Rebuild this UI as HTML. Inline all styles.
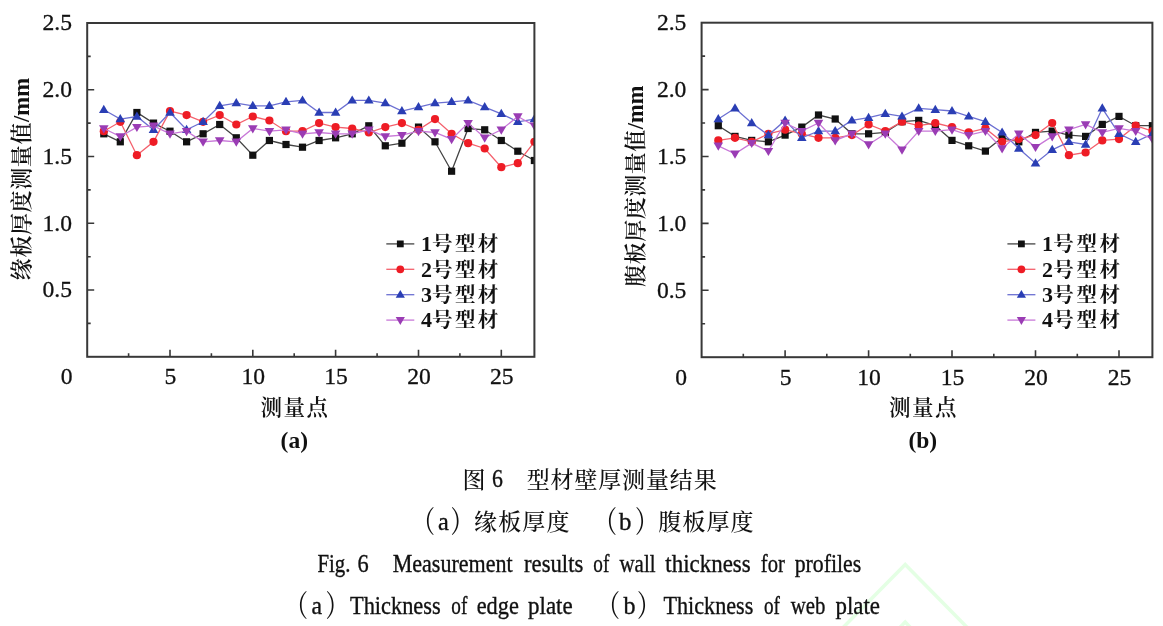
<!DOCTYPE html>
<html lang="zh-CN">
<head>
<meta charset="utf-8">
<title>图6 型材壁厚测量结果</title>
<style>
html,body{margin:0;padding:0;background:#fff;}
body{width:1163px;height:626px;overflow:hidden;}
svg{display:block;}
text{font-family:"Liberation Serif","Noto Serif CJK SC",serif;fill:#111;}
.tk text{font-size:23.6px;stroke:#111;stroke-width:0.3px;}
.lb{font-size:21.5px;font-weight:600;}
.yl{font-size:22px;font-weight:600;}
.yl .la{font-size:24px;}
.sb{font-size:23.5px;font-weight:bold;}
.lg{font-size:20.5px;font-weight:bold;}
.lg .dg{font-size:22px;}
.cap{font-size:23px;font-weight:500;}
.en{font-size:24.5px;stroke:#111;stroke-width:0.35px;}
</style>
</head>
<body>
<svg width="1163" height="626" viewBox="0 0 1163 626">
<rect width="1163" height="626" fill="#ffffff"/>
<path d="M842.6 628L905.2 564.5L967.7 628M880 648L905.2 622L930 648" fill="none" stroke="#e4ffe4" stroke-width="3.5"/>
<clipPath id="cp1"><rect x="87.2" y="23.0" width="447.2" height="333.8"/></clipPath>
<g clip-path="url(#cp1)">
<polyline points="103.8,133.8 120.3,141.8 136.9,112.5 153.5,123.1 170.0,131.2 186.6,141.8 203.1,133.8 219.7,124.5 236.3,137.8 252.8,155.2 269.4,140.5 286.0,144.5 302.5,147.2 319.1,140.5 335.6,137.8 352.2,133.8 368.8,125.8 385.3,145.8 401.9,143.2 418.5,127.1 435.0,141.8 451.6,171.2 468.1,128.5 484.7,129.8 501.3,140.5 517.8,151.2 534.4,160.5" fill="none" stroke="#444444" stroke-width="1.3"/>
<rect x="100.2" y="130.2" width="7.2" height="7.2" fill="#111111"/>
<rect x="116.7" y="138.2" width="7.2" height="7.2" fill="#111111"/>
<rect x="133.3" y="108.9" width="7.2" height="7.2" fill="#111111"/>
<rect x="149.9" y="119.5" width="7.2" height="7.2" fill="#111111"/>
<rect x="166.4" y="127.6" width="7.2" height="7.2" fill="#111111"/>
<rect x="183.0" y="138.2" width="7.2" height="7.2" fill="#111111"/>
<rect x="199.5" y="130.2" width="7.2" height="7.2" fill="#111111"/>
<rect x="216.1" y="120.9" width="7.2" height="7.2" fill="#111111"/>
<rect x="232.7" y="134.2" width="7.2" height="7.2" fill="#111111"/>
<rect x="249.2" y="151.6" width="7.2" height="7.2" fill="#111111"/>
<rect x="265.8" y="136.9" width="7.2" height="7.2" fill="#111111"/>
<rect x="282.4" y="140.9" width="7.2" height="7.2" fill="#111111"/>
<rect x="298.9" y="143.6" width="7.2" height="7.2" fill="#111111"/>
<rect x="315.5" y="136.9" width="7.2" height="7.2" fill="#111111"/>
<rect x="332.0" y="134.2" width="7.2" height="7.2" fill="#111111"/>
<rect x="348.6" y="130.2" width="7.2" height="7.2" fill="#111111"/>
<rect x="365.2" y="122.2" width="7.2" height="7.2" fill="#111111"/>
<rect x="381.7" y="142.2" width="7.2" height="7.2" fill="#111111"/>
<rect x="398.3" y="139.6" width="7.2" height="7.2" fill="#111111"/>
<rect x="414.9" y="123.5" width="7.2" height="7.2" fill="#111111"/>
<rect x="431.4" y="138.2" width="7.2" height="7.2" fill="#111111"/>
<rect x="448.0" y="167.6" width="7.2" height="7.2" fill="#111111"/>
<rect x="464.5" y="124.9" width="7.2" height="7.2" fill="#111111"/>
<rect x="481.1" y="126.2" width="7.2" height="7.2" fill="#111111"/>
<rect x="497.7" y="136.9" width="7.2" height="7.2" fill="#111111"/>
<rect x="514.2" y="147.6" width="7.2" height="7.2" fill="#111111"/>
<rect x="530.8" y="156.9" width="7.2" height="7.2" fill="#111111"/>
<polyline points="103.8,131.2 120.3,121.8 136.9,155.2 153.5,141.8 170.0,111.1 186.6,115.1 203.1,121.8 219.7,115.1 236.3,124.5 252.8,116.5 269.4,120.5 286.0,131.2 302.5,131.2 319.1,123.1 335.6,127.1 352.2,128.5 368.8,132.5 385.3,127.1 401.9,123.1 418.5,129.8 435.0,119.1 451.6,133.8 468.1,143.2 484.7,148.5 501.3,167.2 517.8,163.2 534.4,141.8" fill="none" stroke="#f4606c" stroke-width="1.3"/>
<circle cx="103.8" cy="131.2" r="4.1" fill="#ee1c25"/>
<circle cx="120.3" cy="121.8" r="4.1" fill="#ee1c25"/>
<circle cx="136.9" cy="155.2" r="4.1" fill="#ee1c25"/>
<circle cx="153.5" cy="141.8" r="4.1" fill="#ee1c25"/>
<circle cx="170.0" cy="111.1" r="4.1" fill="#ee1c25"/>
<circle cx="186.6" cy="115.1" r="4.1" fill="#ee1c25"/>
<circle cx="203.1" cy="121.8" r="4.1" fill="#ee1c25"/>
<circle cx="219.7" cy="115.1" r="4.1" fill="#ee1c25"/>
<circle cx="236.3" cy="124.5" r="4.1" fill="#ee1c25"/>
<circle cx="252.8" cy="116.5" r="4.1" fill="#ee1c25"/>
<circle cx="269.4" cy="120.5" r="4.1" fill="#ee1c25"/>
<circle cx="286.0" cy="131.2" r="4.1" fill="#ee1c25"/>
<circle cx="302.5" cy="131.2" r="4.1" fill="#ee1c25"/>
<circle cx="319.1" cy="123.1" r="4.1" fill="#ee1c25"/>
<circle cx="335.6" cy="127.1" r="4.1" fill="#ee1c25"/>
<circle cx="352.2" cy="128.5" r="4.1" fill="#ee1c25"/>
<circle cx="368.8" cy="132.5" r="4.1" fill="#ee1c25"/>
<circle cx="385.3" cy="127.1" r="4.1" fill="#ee1c25"/>
<circle cx="401.9" cy="123.1" r="4.1" fill="#ee1c25"/>
<circle cx="418.5" cy="129.8" r="4.1" fill="#ee1c25"/>
<circle cx="435.0" cy="119.1" r="4.1" fill="#ee1c25"/>
<circle cx="451.6" cy="133.8" r="4.1" fill="#ee1c25"/>
<circle cx="468.1" cy="143.2" r="4.1" fill="#ee1c25"/>
<circle cx="484.7" cy="148.5" r="4.1" fill="#ee1c25"/>
<circle cx="501.3" cy="167.2" r="4.1" fill="#ee1c25"/>
<circle cx="517.8" cy="163.2" r="4.1" fill="#ee1c25"/>
<circle cx="534.4" cy="141.8" r="4.1" fill="#ee1c25"/>
<polyline points="103.8,109.8 120.3,119.1 136.9,116.5 153.5,129.8 170.0,112.5 186.6,129.8 203.1,121.8 219.7,105.8 236.3,103.1 252.8,105.8 269.4,105.8 286.0,101.8 302.5,100.4 319.1,112.5 335.6,112.5 352.2,100.4 368.8,100.4 385.3,103.1 401.9,111.1 418.5,107.1 435.0,103.1 451.6,101.8 468.1,100.4 484.7,107.1 501.3,113.8 517.8,121.8 534.4,119.1" fill="none" stroke="#6c70d2" stroke-width="1.3"/>
<polygon points="103.8,104.8 108.6,113.0 99.0,113.0" fill="#2a3eb4"/>
<polygon points="120.3,114.1 125.1,122.3 115.5,122.3" fill="#2a3eb4"/>
<polygon points="136.9,111.5 141.7,119.7 132.1,119.7" fill="#2a3eb4"/>
<polygon points="153.5,124.8 158.3,133.0 148.7,133.0" fill="#2a3eb4"/>
<polygon points="170.0,107.5 174.8,115.7 165.2,115.7" fill="#2a3eb4"/>
<polygon points="186.6,124.8 191.4,133.0 181.8,133.0" fill="#2a3eb4"/>
<polygon points="203.1,116.8 207.9,125.0 198.3,125.0" fill="#2a3eb4"/>
<polygon points="219.7,100.8 224.5,109.0 214.9,109.0" fill="#2a3eb4"/>
<polygon points="236.3,98.1 241.1,106.3 231.5,106.3" fill="#2a3eb4"/>
<polygon points="252.8,100.8 257.6,109.0 248.0,109.0" fill="#2a3eb4"/>
<polygon points="269.4,100.8 274.2,109.0 264.6,109.0" fill="#2a3eb4"/>
<polygon points="286.0,96.8 290.8,105.0 281.2,105.0" fill="#2a3eb4"/>
<polygon points="302.5,95.4 307.3,103.6 297.7,103.6" fill="#2a3eb4"/>
<polygon points="319.1,107.5 323.9,115.7 314.3,115.7" fill="#2a3eb4"/>
<polygon points="335.6,107.5 340.4,115.7 330.8,115.7" fill="#2a3eb4"/>
<polygon points="352.2,95.4 357.0,103.6 347.4,103.6" fill="#2a3eb4"/>
<polygon points="368.8,95.4 373.6,103.6 364.0,103.6" fill="#2a3eb4"/>
<polygon points="385.3,98.1 390.1,106.3 380.5,106.3" fill="#2a3eb4"/>
<polygon points="401.9,106.1 406.7,114.3 397.1,114.3" fill="#2a3eb4"/>
<polygon points="418.5,102.1 423.3,110.3 413.7,110.3" fill="#2a3eb4"/>
<polygon points="435.0,98.1 439.8,106.3 430.2,106.3" fill="#2a3eb4"/>
<polygon points="451.6,96.8 456.4,105.0 446.8,105.0" fill="#2a3eb4"/>
<polygon points="468.1,95.4 472.9,103.6 463.3,103.6" fill="#2a3eb4"/>
<polygon points="484.7,102.1 489.5,110.3 479.9,110.3" fill="#2a3eb4"/>
<polygon points="501.3,108.8 506.1,117.0 496.5,117.0" fill="#2a3eb4"/>
<polygon points="517.8,116.8 522.6,125.0 513.0,125.0" fill="#2a3eb4"/>
<polygon points="534.4,114.1 539.2,122.3 529.6,122.3" fill="#2a3eb4"/>
<polyline points="103.8,128.5 120.3,136.5 136.9,127.1 153.5,125.8 170.0,133.8 186.6,131.2 203.1,141.8 219.7,140.5 236.3,141.8 252.8,128.5 269.4,131.2 286.0,129.8 302.5,133.8 319.1,132.5 335.6,133.8 352.2,133.8 368.8,129.8 385.3,136.5 401.9,135.2 418.5,131.2 435.0,132.5 451.6,139.2 468.1,123.1 484.7,137.8 501.3,129.8 517.8,116.5 534.4,125.8" fill="none" stroke="#c878d8" stroke-width="1.3"/>
<polygon points="103.8,133.5 108.6,125.3 99.0,125.3" fill="#9a3cb4"/>
<polygon points="120.3,141.5 125.1,133.3 115.5,133.3" fill="#9a3cb4"/>
<polygon points="136.9,132.1 141.7,123.9 132.1,123.9" fill="#9a3cb4"/>
<polygon points="153.5,130.8 158.3,122.6 148.7,122.6" fill="#9a3cb4"/>
<polygon points="170.0,138.8 174.8,130.6 165.2,130.6" fill="#9a3cb4"/>
<polygon points="186.6,136.2 191.4,128.0 181.8,128.0" fill="#9a3cb4"/>
<polygon points="203.1,146.8 207.9,138.6 198.3,138.6" fill="#9a3cb4"/>
<polygon points="219.7,145.5 224.5,137.3 214.9,137.3" fill="#9a3cb4"/>
<polygon points="236.3,146.8 241.1,138.6 231.5,138.6" fill="#9a3cb4"/>
<polygon points="252.8,133.5 257.6,125.3 248.0,125.3" fill="#9a3cb4"/>
<polygon points="269.4,136.2 274.2,128.0 264.6,128.0" fill="#9a3cb4"/>
<polygon points="286.0,134.8 290.8,126.6 281.2,126.6" fill="#9a3cb4"/>
<polygon points="302.5,138.8 307.3,130.6 297.7,130.6" fill="#9a3cb4"/>
<polygon points="319.1,137.5 323.9,129.3 314.3,129.3" fill="#9a3cb4"/>
<polygon points="335.6,138.8 340.4,130.6 330.8,130.6" fill="#9a3cb4"/>
<polygon points="352.2,138.8 357.0,130.6 347.4,130.6" fill="#9a3cb4"/>
<polygon points="368.8,134.8 373.6,126.6 364.0,126.6" fill="#9a3cb4"/>
<polygon points="385.3,141.5 390.1,133.3 380.5,133.3" fill="#9a3cb4"/>
<polygon points="401.9,140.2 406.7,132.0 397.1,132.0" fill="#9a3cb4"/>
<polygon points="418.5,136.2 423.3,128.0 413.7,128.0" fill="#9a3cb4"/>
<polygon points="435.0,137.5 439.8,129.3 430.2,129.3" fill="#9a3cb4"/>
<polygon points="451.6,144.2 456.4,136.0 446.8,136.0" fill="#9a3cb4"/>
<polygon points="468.1,128.1 472.9,119.9 463.3,119.9" fill="#9a3cb4"/>
<polygon points="484.7,142.8 489.5,134.6 479.9,134.6" fill="#9a3cb4"/>
<polygon points="501.3,134.8 506.1,126.6 496.5,126.6" fill="#9a3cb4"/>
<polygon points="517.8,121.5 522.6,113.3 513.0,113.3" fill="#9a3cb4"/>
<polygon points="534.4,130.8 539.2,122.6 529.6,122.6" fill="#9a3cb4"/>
</g>
<rect x="87.2" y="23.0" width="447.2" height="333.8" fill="none" stroke="#383838" stroke-width="2"/>
<path d="M87.2 323.4h3.5M87.2 290.0h7M87.2 256.7h3.5M87.2 223.3h7M87.2 189.9h3.5M87.2 156.5h7M87.2 123.1h3.5M87.2 89.8h7M87.2 56.4h3.5M128.6 356.8v-3.5M170.0 356.8v-7M211.4 356.8v-3.5M252.8 356.8v-7M294.2 356.8v-3.5M335.6 356.8v-7M377.1 356.8v-3.5M418.5 356.8v-7M459.9 356.8v-3.5M501.3 356.8v-7" stroke="#383838" stroke-width="1.6" fill="none"/>
<g class="tk">
<text x="72.0" y="297.3" text-anchor="end">0.5</text>
<text x="72.0" y="230.6" text-anchor="end">1.0</text>
<text x="72.0" y="163.8" text-anchor="end">1.5</text>
<text x="72.0" y="97.1" text-anchor="end">2.0</text>
<text x="72.0" y="30.3" text-anchor="end">2.5</text>
<text x="66.7" y="384.4" text-anchor="middle">0</text>
<text x="170.5" y="384.4" text-anchor="middle">5</text>
<text x="253.3" y="384.4" text-anchor="middle">10</text>
<text x="336.1" y="384.4" text-anchor="middle">15</text>
<text x="419.0" y="384.4" text-anchor="middle">20</text>
<text x="501.8" y="384.4" text-anchor="middle">25</text>
</g>
<text class="yl" transform="translate(28.5,280.2) rotate(-90)"><tspan x="0.0 22.6 45.2 67.8 90.4 113.0 135.6">缘板厚度测量值</tspan><tspan class="la" x="158.2" textLength="44" lengthAdjust="spacingAndGlyphs">/mm</tspan></text>
<text class="lb" x="294.3" y="414.8" text-anchor="middle" textLength="67.5" lengthAdjust="spacing">测量点</text>
<text class="sb" x="294.3" y="447.8" text-anchor="middle">(a)</text>
<path d="M386.3 243.9h28" stroke="#444444" stroke-width="1.3"/>
<rect x="396.9" y="240.5" width="6.8" height="6.8" fill="#111111"/>
<text class="lg" y="251.1"><tspan class="dg" x="420.9">1</tspan><tspan x="432.1 454.9 477.7">号型材</tspan></text>
<path d="M386.3 269.3h28" stroke="#f4606c" stroke-width="1.3"/>
<circle cx="400.3" cy="269.3" r="3.9" fill="#ee1c25"/>
<text class="lg" y="276.5"><tspan class="dg" x="420.9">2</tspan><tspan x="432.1 454.9 477.7">号型材</tspan></text>
<path d="M386.3 294.7h28" stroke="#6c70d2" stroke-width="1.3"/>
<polygon points="400.3,289.9 404.9,297.7 395.7,297.7" fill="#2a3eb4"/>
<text class="lg" y="301.9"><tspan class="dg" x="420.9">3</tspan><tspan x="432.1 454.9 477.7">号型材</tspan></text>
<path d="M386.3 320.1h28" stroke="#c878d8" stroke-width="1.3"/>
<polygon points="400.3,324.9 404.9,317.1 395.7,317.1" fill="#9a3cb4"/>
<text class="lg" y="327.3"><tspan class="dg" x="420.9">4</tspan><tspan x="432.1 454.9 477.7">号型材</tspan></text>
<clipPath id="cp2"><rect x="701.6" y="22.7" width="450.8" height="334.5"/></clipPath>
<g clip-path="url(#cp2)">
<polyline points="718.3,125.7 735.0,136.4 751.7,140.4 768.4,141.8 785.1,135.1 801.8,127.1 818.5,115.0 835.2,119.0 851.9,133.8 868.6,133.8 885.3,132.4 902.0,121.7 918.7,120.4 935.3,125.7 952.0,140.4 968.7,145.8 985.4,151.1 1002.1,137.8 1018.8,141.8 1035.5,132.4 1052.2,131.1 1068.9,135.1 1085.6,136.4 1102.3,124.4 1119.0,116.4 1135.7,125.7 1152.4,125.7" fill="none" stroke="#444444" stroke-width="1.3"/>
<rect x="714.7" y="122.1" width="7.2" height="7.2" fill="#111111"/>
<rect x="731.4" y="132.8" width="7.2" height="7.2" fill="#111111"/>
<rect x="748.1" y="136.8" width="7.2" height="7.2" fill="#111111"/>
<rect x="764.8" y="138.2" width="7.2" height="7.2" fill="#111111"/>
<rect x="781.5" y="131.5" width="7.2" height="7.2" fill="#111111"/>
<rect x="798.2" y="123.5" width="7.2" height="7.2" fill="#111111"/>
<rect x="814.9" y="111.4" width="7.2" height="7.2" fill="#111111"/>
<rect x="831.6" y="115.4" width="7.2" height="7.2" fill="#111111"/>
<rect x="848.3" y="130.2" width="7.2" height="7.2" fill="#111111"/>
<rect x="865.0" y="130.2" width="7.2" height="7.2" fill="#111111"/>
<rect x="881.7" y="128.8" width="7.2" height="7.2" fill="#111111"/>
<rect x="898.4" y="118.1" width="7.2" height="7.2" fill="#111111"/>
<rect x="915.1" y="116.8" width="7.2" height="7.2" fill="#111111"/>
<rect x="931.7" y="122.1" width="7.2" height="7.2" fill="#111111"/>
<rect x="948.4" y="136.8" width="7.2" height="7.2" fill="#111111"/>
<rect x="965.1" y="142.2" width="7.2" height="7.2" fill="#111111"/>
<rect x="981.8" y="147.5" width="7.2" height="7.2" fill="#111111"/>
<rect x="998.5" y="134.2" width="7.2" height="7.2" fill="#111111"/>
<rect x="1015.2" y="138.2" width="7.2" height="7.2" fill="#111111"/>
<rect x="1031.9" y="128.8" width="7.2" height="7.2" fill="#111111"/>
<rect x="1048.6" y="127.5" width="7.2" height="7.2" fill="#111111"/>
<rect x="1065.3" y="131.5" width="7.2" height="7.2" fill="#111111"/>
<rect x="1082.0" y="132.8" width="7.2" height="7.2" fill="#111111"/>
<rect x="1098.7" y="120.8" width="7.2" height="7.2" fill="#111111"/>
<rect x="1115.4" y="112.8" width="7.2" height="7.2" fill="#111111"/>
<rect x="1132.1" y="122.1" width="7.2" height="7.2" fill="#111111"/>
<rect x="1148.8" y="122.1" width="7.2" height="7.2" fill="#111111"/>
<polyline points="718.3,140.4 735.0,137.8 751.7,141.8 768.4,133.8 785.1,129.7 801.8,133.8 818.5,137.8 835.2,137.8 851.9,135.1 868.6,124.4 885.3,131.1 902.0,121.7 918.7,125.7 935.3,123.0 952.0,127.1 968.7,132.4 985.4,128.4 1002.1,141.8 1018.8,139.1 1035.5,135.1 1052.2,123.0 1068.9,155.2 1085.6,152.5 1102.3,140.4 1119.0,139.1 1135.7,125.7 1152.4,131.1" fill="none" stroke="#f4606c" stroke-width="1.3"/>
<circle cx="718.3" cy="140.4" r="4.1" fill="#ee1c25"/>
<circle cx="735.0" cy="137.8" r="4.1" fill="#ee1c25"/>
<circle cx="751.7" cy="141.8" r="4.1" fill="#ee1c25"/>
<circle cx="768.4" cy="133.8" r="4.1" fill="#ee1c25"/>
<circle cx="785.1" cy="129.7" r="4.1" fill="#ee1c25"/>
<circle cx="801.8" cy="133.8" r="4.1" fill="#ee1c25"/>
<circle cx="818.5" cy="137.8" r="4.1" fill="#ee1c25"/>
<circle cx="835.2" cy="137.8" r="4.1" fill="#ee1c25"/>
<circle cx="851.9" cy="135.1" r="4.1" fill="#ee1c25"/>
<circle cx="868.6" cy="124.4" r="4.1" fill="#ee1c25"/>
<circle cx="885.3" cy="131.1" r="4.1" fill="#ee1c25"/>
<circle cx="902.0" cy="121.7" r="4.1" fill="#ee1c25"/>
<circle cx="918.7" cy="125.7" r="4.1" fill="#ee1c25"/>
<circle cx="935.3" cy="123.0" r="4.1" fill="#ee1c25"/>
<circle cx="952.0" cy="127.1" r="4.1" fill="#ee1c25"/>
<circle cx="968.7" cy="132.4" r="4.1" fill="#ee1c25"/>
<circle cx="985.4" cy="128.4" r="4.1" fill="#ee1c25"/>
<circle cx="1002.1" cy="141.8" r="4.1" fill="#ee1c25"/>
<circle cx="1018.8" cy="139.1" r="4.1" fill="#ee1c25"/>
<circle cx="1035.5" cy="135.1" r="4.1" fill="#ee1c25"/>
<circle cx="1052.2" cy="123.0" r="4.1" fill="#ee1c25"/>
<circle cx="1068.9" cy="155.2" r="4.1" fill="#ee1c25"/>
<circle cx="1085.6" cy="152.5" r="4.1" fill="#ee1c25"/>
<circle cx="1102.3" cy="140.4" r="4.1" fill="#ee1c25"/>
<circle cx="1119.0" cy="139.1" r="4.1" fill="#ee1c25"/>
<circle cx="1135.7" cy="125.7" r="4.1" fill="#ee1c25"/>
<circle cx="1152.4" cy="131.1" r="4.1" fill="#ee1c25"/>
<polyline points="718.3,119.0 735.0,108.3 751.7,123.0 768.4,135.1 785.1,120.4 801.8,137.8 818.5,131.1 835.2,131.1 851.9,120.4 868.6,117.7 885.3,113.7 902.0,116.4 918.7,108.3 935.3,109.7 952.0,111.0 968.7,116.4 985.4,121.7 1002.1,132.4 1018.8,148.5 1035.5,163.2 1052.2,149.8 1068.9,141.8 1085.6,144.5 1102.3,108.3 1119.0,133.8 1135.7,141.8 1152.4,133.8" fill="none" stroke="#6c70d2" stroke-width="1.3"/>
<polygon points="718.3,114.0 723.1,122.2 713.5,122.2" fill="#2a3eb4"/>
<polygon points="735.0,103.3 739.8,111.5 730.2,111.5" fill="#2a3eb4"/>
<polygon points="751.7,118.0 756.5,126.2 746.9,126.2" fill="#2a3eb4"/>
<polygon points="768.4,130.1 773.2,138.3 763.6,138.3" fill="#2a3eb4"/>
<polygon points="785.1,115.4 789.9,123.6 780.3,123.6" fill="#2a3eb4"/>
<polygon points="801.8,132.8 806.6,141.0 797.0,141.0" fill="#2a3eb4"/>
<polygon points="818.5,126.1 823.3,134.3 813.7,134.3" fill="#2a3eb4"/>
<polygon points="835.2,126.1 840.0,134.3 830.4,134.3" fill="#2a3eb4"/>
<polygon points="851.9,115.4 856.7,123.6 847.1,123.6" fill="#2a3eb4"/>
<polygon points="868.6,112.7 873.4,120.9 863.8,120.9" fill="#2a3eb4"/>
<polygon points="885.3,108.7 890.1,116.9 880.5,116.9" fill="#2a3eb4"/>
<polygon points="902.0,111.4 906.8,119.6 897.2,119.6" fill="#2a3eb4"/>
<polygon points="918.7,103.3 923.5,111.5 913.9,111.5" fill="#2a3eb4"/>
<polygon points="935.3,104.7 940.1,112.9 930.5,112.9" fill="#2a3eb4"/>
<polygon points="952.0,106.0 956.8,114.2 947.2,114.2" fill="#2a3eb4"/>
<polygon points="968.7,111.4 973.5,119.6 963.9,119.6" fill="#2a3eb4"/>
<polygon points="985.4,116.7 990.2,124.9 980.6,124.9" fill="#2a3eb4"/>
<polygon points="1002.1,127.4 1006.9,135.6 997.3,135.6" fill="#2a3eb4"/>
<polygon points="1018.8,143.5 1023.6,151.7 1014.0,151.7" fill="#2a3eb4"/>
<polygon points="1035.5,158.2 1040.3,166.4 1030.7,166.4" fill="#2a3eb4"/>
<polygon points="1052.2,144.8 1057.0,153.0 1047.4,153.0" fill="#2a3eb4"/>
<polygon points="1068.9,136.8 1073.7,145.0 1064.1,145.0" fill="#2a3eb4"/>
<polygon points="1085.6,139.5 1090.4,147.7 1080.8,147.7" fill="#2a3eb4"/>
<polygon points="1102.3,103.3 1107.1,111.5 1097.5,111.5" fill="#2a3eb4"/>
<polygon points="1119.0,128.8 1123.8,137.0 1114.2,137.0" fill="#2a3eb4"/>
<polygon points="1135.7,136.8 1140.5,145.0 1130.9,145.0" fill="#2a3eb4"/>
<polygon points="1152.4,128.8 1157.2,137.0 1147.6,137.0" fill="#2a3eb4"/>
<polyline points="718.3,145.8 735.0,153.8 751.7,143.1 768.4,151.1 785.1,123.0 801.8,131.1 818.5,123.0 835.2,140.4 851.9,133.8 868.6,144.5 885.3,133.8 902.0,149.8 918.7,131.1 935.3,131.1 952.0,129.7 968.7,135.1 985.4,131.1 1002.1,148.5 1018.8,133.8 1035.5,147.1 1052.2,136.4 1068.9,129.7 1085.6,124.4 1102.3,132.4 1119.0,128.4 1135.7,131.1 1152.4,139.1" fill="none" stroke="#c878d8" stroke-width="1.3"/>
<polygon points="718.3,150.8 723.1,142.6 713.5,142.6" fill="#9a3cb4"/>
<polygon points="735.0,158.8 739.8,150.6 730.2,150.6" fill="#9a3cb4"/>
<polygon points="751.7,148.1 756.5,139.9 746.9,139.9" fill="#9a3cb4"/>
<polygon points="768.4,156.1 773.2,147.9 763.6,147.9" fill="#9a3cb4"/>
<polygon points="785.1,128.0 789.9,119.8 780.3,119.8" fill="#9a3cb4"/>
<polygon points="801.8,136.1 806.6,127.9 797.0,127.9" fill="#9a3cb4"/>
<polygon points="818.5,128.0 823.3,119.8 813.7,119.8" fill="#9a3cb4"/>
<polygon points="835.2,145.4 840.0,137.2 830.4,137.2" fill="#9a3cb4"/>
<polygon points="851.9,138.8 856.7,130.6 847.1,130.6" fill="#9a3cb4"/>
<polygon points="868.6,149.5 873.4,141.3 863.8,141.3" fill="#9a3cb4"/>
<polygon points="885.3,138.8 890.1,130.6 880.5,130.6" fill="#9a3cb4"/>
<polygon points="902.0,154.8 906.8,146.6 897.2,146.6" fill="#9a3cb4"/>
<polygon points="918.7,136.1 923.5,127.9 913.9,127.9" fill="#9a3cb4"/>
<polygon points="935.3,136.1 940.1,127.9 930.5,127.9" fill="#9a3cb4"/>
<polygon points="952.0,134.7 956.8,126.5 947.2,126.5" fill="#9a3cb4"/>
<polygon points="968.7,140.1 973.5,131.9 963.9,131.9" fill="#9a3cb4"/>
<polygon points="985.4,136.1 990.2,127.9 980.6,127.9" fill="#9a3cb4"/>
<polygon points="1002.1,153.5 1006.9,145.3 997.3,145.3" fill="#9a3cb4"/>
<polygon points="1018.8,138.8 1023.6,130.6 1014.0,130.6" fill="#9a3cb4"/>
<polygon points="1035.5,152.1 1040.3,143.9 1030.7,143.9" fill="#9a3cb4"/>
<polygon points="1052.2,141.4 1057.0,133.2 1047.4,133.2" fill="#9a3cb4"/>
<polygon points="1068.9,134.7 1073.7,126.5 1064.1,126.5" fill="#9a3cb4"/>
<polygon points="1085.6,129.4 1090.4,121.2 1080.8,121.2" fill="#9a3cb4"/>
<polygon points="1102.3,137.4 1107.1,129.2 1097.5,129.2" fill="#9a3cb4"/>
<polygon points="1119.0,133.4 1123.8,125.2 1114.2,125.2" fill="#9a3cb4"/>
<polygon points="1135.7,136.1 1140.5,127.9 1130.9,127.9" fill="#9a3cb4"/>
<polygon points="1152.4,144.1 1157.2,135.9 1147.6,135.9" fill="#9a3cb4"/>
</g>
<rect x="701.6" y="22.7" width="450.8" height="334.5" fill="none" stroke="#383838" stroke-width="2"/>
<path d="M701.6 323.8h3.5M701.6 290.3h7M701.6 256.9h3.5M701.6 223.4h7M701.6 189.9h3.5M701.6 156.5h7M701.6 123.0h3.5M701.6 89.6h7M701.6 56.1h3.5M743.3 357.2v-3.5M785.1 357.2v-7M826.8 357.2v-3.5M868.6 357.2v-7M910.3 357.2v-3.5M952.0 357.2v-7M993.8 357.2v-3.5M1035.5 357.2v-7M1077.3 357.2v-3.5M1119.0 357.2v-7" stroke="#383838" stroke-width="1.6" fill="none"/>
<g class="tk">
<text x="686.4" y="297.6" text-anchor="end">0.5</text>
<text x="686.4" y="230.7" text-anchor="end">1.0</text>
<text x="686.4" y="163.8" text-anchor="end">1.5</text>
<text x="686.4" y="96.9" text-anchor="end">2.0</text>
<text x="686.4" y="30.0" text-anchor="end">2.5</text>
<text x="681.1" y="384.8" text-anchor="middle">0</text>
<text x="785.6" y="384.8" text-anchor="middle">5</text>
<text x="869.1" y="384.8" text-anchor="middle">10</text>
<text x="952.5" y="384.8" text-anchor="middle">15</text>
<text x="1036.0" y="384.8" text-anchor="middle">20</text>
<text x="1119.5" y="384.8" text-anchor="middle">25</text>
</g>
<text class="yl" transform="translate(642.6,286.7) rotate(-90)"><tspan x="0.0 22.5 45.0 67.5 90.0 112.5 135.0">腹板厚度测量值</tspan><tspan class="la" x="157.5" textLength="43.5" lengthAdjust="spacingAndGlyphs">/mm</tspan></text>
<text class="lb" x="922.8" y="415.2" text-anchor="middle" textLength="67.5" lengthAdjust="spacing">测量点</text>
<text class="sb" x="922.8" y="448.2" text-anchor="middle">(b)</text>
<path d="M1007.4 243.9h28" stroke="#444444" stroke-width="1.3"/>
<rect x="1018.0" y="240.5" width="6.8" height="6.8" fill="#111111"/>
<text class="lg" y="251.1"><tspan class="dg" x="1042.0">1</tspan><tspan x="1053.2 1076.4 1099.6">号型材</tspan></text>
<path d="M1007.4 269.3h28" stroke="#f4606c" stroke-width="1.3"/>
<circle cx="1021.4" cy="269.3" r="3.9" fill="#ee1c25"/>
<text class="lg" y="276.5"><tspan class="dg" x="1042.0">2</tspan><tspan x="1053.2 1076.4 1099.6">号型材</tspan></text>
<path d="M1007.4 294.7h28" stroke="#6c70d2" stroke-width="1.3"/>
<polygon points="1021.4,289.9 1026.0,297.7 1016.8,297.7" fill="#2a3eb4"/>
<text class="lg" y="301.9"><tspan class="dg" x="1042.0">3</tspan><tspan x="1053.2 1076.4 1099.6">号型材</tspan></text>
<path d="M1007.4 320.1h28" stroke="#c878d8" stroke-width="1.3"/>
<polygon points="1021.4,324.9 1026.0,317.1 1016.8,317.1" fill="#9a3cb4"/>
<text class="lg" y="327.3"><tspan class="dg" x="1042.0">4</tspan><tspan x="1053.2 1076.4 1099.6">号型材</tspan></text>
<text class="cap" x="462.4" y="487.9">图</text>
<text class="en" x="492.0" y="487.4" textLength="10.9" lengthAdjust="spacingAndGlyphs">6</text>
<text class="cap" x="526.7 550.5 574.4 598.3 622.1 646.0 669.8 693.7" y="487.9">型材壁厚测量结果</text>
<text class="cap" transform="translate(0,522.8) scale(1,1.3) translate(0,-522.8)" x="412.1" y="529.7">（</text>
<text class="en" x="437.9" y="530.0" textLength="10.8" lengthAdjust="spacingAndGlyphs">a</text>
<text class="cap" transform="translate(0,522.8) scale(1,1.3) translate(0,-522.8)" x="450.5" y="529.7">）</text>
<text class="cap" x="474.1 498.2 522.3 546.4" y="529.7">缘板厚度</text>
<text class="cap" transform="translate(0,522.8) scale(1,1.3) translate(0,-522.8)" x="594.1" y="529.7">（</text>
<text class="en" x="619.0" y="530.0" textLength="12.4" lengthAdjust="spacingAndGlyphs">b</text>
<text class="cap" transform="translate(0,522.8) scale(1,1.3) translate(0,-522.8)" x="635.0" y="529.7">）</text>
<text class="cap" x="658.3 682.4 706.5 730.6" y="529.7">腹板厚度</text>
<text class="en" x="317.5" y="571.7" textLength="33.0" lengthAdjust="spacingAndGlyphs">Fig.</text>
<text class="en" x="357.5" y="571.7" textLength="11.2" lengthAdjust="spacingAndGlyphs">6</text>
<text class="en" x="392.7" y="571.7" textLength="120.0" lengthAdjust="spacingAndGlyphs">Measurement</text>
<text class="en" x="524.0" y="571.7" textLength="59.3" lengthAdjust="spacingAndGlyphs">results</text>
<text class="en" x="593.3" y="571.7" textLength="16.0" lengthAdjust="spacingAndGlyphs">of</text>
<text class="en" x="619.5" y="571.7" textLength="36.0" lengthAdjust="spacingAndGlyphs">wall</text>
<text class="en" x="665.3" y="571.7" textLength="85.4" lengthAdjust="spacingAndGlyphs">thickness</text>
<text class="en" x="760.8" y="571.7" textLength="24.0" lengthAdjust="spacingAndGlyphs">for</text>
<text class="en" x="794.7" y="571.7" textLength="66.6" lengthAdjust="spacingAndGlyphs">profiles</text>
<text class="cap" transform="translate(0,607.1) scale(1,1.3) translate(0,-607.1)" x="285.1" y="614.0">（</text>
<text class="en" x="311.5" y="614.3" textLength="10.5" lengthAdjust="spacingAndGlyphs">a</text>
<text class="cap" transform="translate(0,607.1) scale(1,1.3) translate(0,-607.1)" x="325.5" y="614.0">）</text>
<text class="cap" transform="translate(0,607.1) scale(1,1.3) translate(0,-607.1)" x="597.1" y="614.0">（</text>
<text class="en" x="623.5" y="614.3" textLength="12.0" lengthAdjust="spacingAndGlyphs">b</text>
<text class="cap" transform="translate(0,607.1) scale(1,1.3) translate(0,-607.1)" x="637.0" y="614.0">）</text>
<text class="en" x="350.0" y="614.0" textLength="90.7" lengthAdjust="spacingAndGlyphs">Thickness</text>
<text class="en" x="451.3" y="614.0" textLength="16.0" lengthAdjust="spacingAndGlyphs">of</text>
<text class="en" x="476.7" y="614.0" textLength="42.1" lengthAdjust="spacingAndGlyphs">edge</text>
<text class="en" x="528.1" y="614.0" textLength="44.6" lengthAdjust="spacingAndGlyphs">plate</text>
<text class="en" x="663.5" y="614.0" textLength="89.8" lengthAdjust="spacingAndGlyphs">Thickness</text>
<text class="en" x="764.0" y="614.0" textLength="16.0" lengthAdjust="spacingAndGlyphs">of</text>
<text class="en" x="790.7" y="614.0" textLength="34.6" lengthAdjust="spacingAndGlyphs">web</text>
<text class="en" x="835.5" y="614.0" textLength="44.5" lengthAdjust="spacingAndGlyphs">plate</text>
</svg>
</body>
</html>
